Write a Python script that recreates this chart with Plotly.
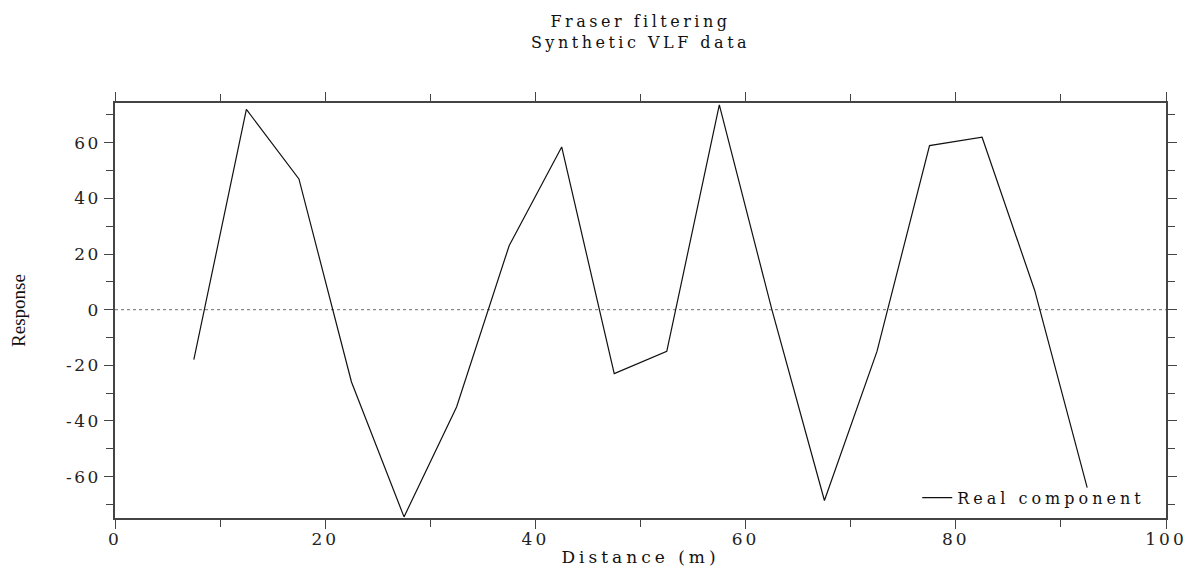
import plotly.graph_objects as go

distance = [7.5, 12.5, 17.5, 22.5, 27.5, 32.5, 37.5, 42.5, 47.5, 52.5,
            57.5, 62.5, 67.5, 72.5, 77.5, 82.5, 87.5, 92.5]
real_component = [-18, 72, 47, -26, -74.5, -35, 23, 58.5, -23, -15,
                  73.6, 0, -68.6, -15, 59, 62, 7, -64]

x_ticks = [0, 20, 40, 60, 80, 100]
y_ticks = [-60, -40, -20, 0, 20, 40, 60]

FONT = "DejaVu Serif"
SP = "letter-spacing:4px"
TSP = "letter-spacing:3px"
YSP = "letter-spacing:2.5px"

# page body has an 8px margin; size the figure so it fits the 1196x567 window
W, H = 1188, 559


def spaced(s, sp=SP):
    return f'<span style="{sp}">{s}</span>'


fig = go.Figure()
fig.add_trace(go.Scatter(
    x=distance, y=real_component, mode="lines",
    line=dict(color="#111111", width=1.2),
    name=spaced("Real component"),
))

fig.add_shape(type="line", xref="paper", yref="y", x0=0, x1=1, y0=0, y1=0,
              line=dict(color="#8a8a8a", width=1.2, dash="dot"), layer="below")

axis_common = dict(
    showgrid=False, zeroline=False, showline=True, linecolor="#444444",
    linewidth=1.5, ticks="outside", ticklen=9, tickwidth=1.3, tickcolor="#444444",
    mirror="ticks", automargin=False,
    tickfont=dict(family=FONT, size=17, color="#222222"),
    minor=dict(tickmode="linear", tick0=0, dtick=10, ticks="outside",
               ticklen=7, tickwidth=1.3, tickcolor="#444444"),
)

fig.update_layout(
    width=W, height=H,
    margin=dict(l=107, r=30, t=95, b=49),
    paper_bgcolor="white", plot_bgcolor="white",
    title=dict(
        text=spaced("Fraser filtering", "letter-spacing:3.5px") + "<br>" +
             spaced("Synthetic VLF data", "letter-spacing:3.5px"),
        x=0.5, xref="paper", xanchor="center",
        y=1 - 19 / H, yref="container", yanchor="middle",
        font=dict(family=FONT, size=16, color="#111111"),
    ),
    xaxis=dict(
        range=[0, 100], tickmode="array", tickvals=x_ticks,
        ticktext=[spaced(str(v), TSP) for v in x_ticks],
        ticklabelstandoff=-4,
        title=dict(text=spaced("Distance (m)"), standoff=19,
                   font=dict(family=FONT, size=17, color="#111111")),
        **axis_common,
    ),
    yaxis=dict(
        range=[-74.9, 74.3], tickmode="array", tickvals=y_ticks,
        ticktext=[spaced(str(v), YSP) for v in y_ticks],
        ticklabelstandoff=0,
        title=dict(text="Response", standoff=35,
                   font=dict(family="Liberation Serif", size=19, color="#111111")),
        **axis_common,
    ),
    showlegend=True,
    legend=dict(
        x=0.985, xanchor="right", y=0.008, yanchor="bottom",
        bgcolor="rgba(255,255,255,0)", borderwidth=0,
        font=dict(family=FONT, size=16, color="#111111"),
    ),
)

fig.write_html("out.html")
